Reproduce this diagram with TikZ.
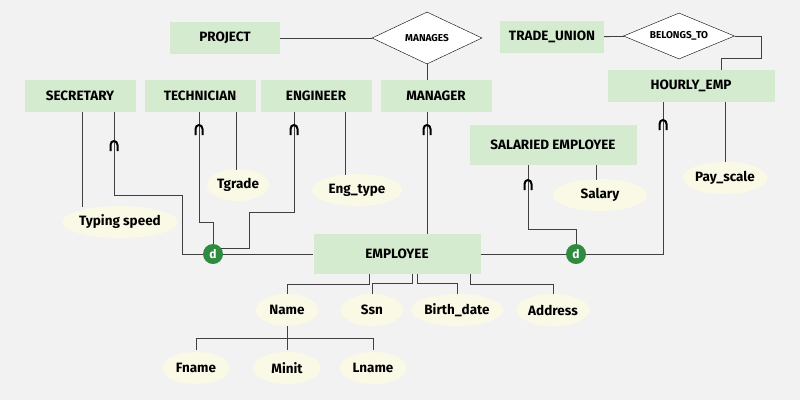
\documentclass[tikz,border=0pt]{standalone}
\usepackage{fontspec}
\setmainfont{Fira Sans}
\usetikzlibrary{shapes.geometric,calc}
\definecolor{bgc}{HTML}{F2F2F2}
\definecolor{entc}{HTML}{D5EBD0}
\definecolor{attc}{HTML}{FAF9E6}
\definecolor{dc}{HTML}{2E8B3F}
\tikzset{
  entity/.style={fill=entc, minimum height=32pt, inner sep=0pt, font=\bfseries\fontsize{13.5}{15}\selectfont},
  rel/.style={diamond, draw, fill=white, aspect=2.1, inner sep=0pt, font=\bfseries\fontsize{10}{12}\selectfont},
  attr/.style={ellipse, fill=attc, minimum height=32pt, inner sep=0pt, font=\bfseries\fontsize{13.5}{15}\selectfont},
  disj/.style={circle, fill=dc, text=white, minimum size=20pt, inner sep=0pt, font=\bfseries\fontsize{12}{14}\selectfont},
  link/.style={draw=black!75, line width=0.9pt}
}
\newcommand{\subsetmark}[1]{\draw[line width=2pt] ($(#1)+(-3.5,6)$) -- ($(#1)+(-3.5,0)$) arc[start angle=180, end angle=0, x radius=3.5, y radius=-4] -- ($(#1)+(3.5,6)$);}
\begin{document}
\begin{tikzpicture}[x=1pt, y=-1pt]
  \fill[bgc] (0,0) rectangle (800,400);
  \useasboundingbox (0,0) rectangle (800,400);
  % entities
  \node[entity, minimum width=110pt] (project) at (225,38) {PROJECT};
  \node[entity, minimum width=104pt] (union) at (552,37) {TRADE\_UNION};
  \node[entity, minimum width=167pt] (hourly) at (691,86) {HOURLY\_EMP};
  \node[entity, minimum width=111pt] (secretary) at (80,96) {SECRETARY};
  \node[entity, minimum width=111pt] (technician) at (200,96) {TECHNICIAN};
  \node[entity, minimum width=111pt] (engineer) at (316,96) {ENGINEER};
  \node[entity, minimum width=111pt] (manager) at (436,96) {MANAGER};
  \node[entity, minimum width=167pt, minimum height=40pt] (salaried) at (553,145) {SALARIED EMPLOYEE};
  \node[entity, minimum width=167pt, minimum height=40pt] (employee) at (397,254) {EMPLOYEE};
  % relationships
  \node[rel, minimum width=110pt, minimum height=52pt] (manages) at (427,38) {MANAGES};
  \node[rel, minimum width=111pt, minimum height=46pt] (belongs) at (679,36) {BELONGS\_TO};
  % attributes
  \node[attr, minimum width=100pt] (typing) at (120,222) {Typing speed};
  \node[attr, minimum width=62pt] (tgrade) at (238,185) {Tgrade};
  \node[attr, minimum width=90pt] (engtype) at (357,190) {Eng\_type};
  \node[attr, minimum width=94pt] (salary) at (600,195) {Salary};
  \node[attr, minimum width=84pt] (payscale) at (725,178) {Pay\_scale};
  \node[attr, minimum width=62pt] (name) at (287,310) {Name};
  \node[attr, minimum width=62pt] (ssn) at (372,310) {Ssn};
  \node[attr, minimum width=87pt] (birth) at (457,310) {Birth\_date};
  \node[attr, minimum width=73pt] (address) at (553,310) {Address};
  \node[attr, minimum width=68pt] (fname) at (196,368) {Fname};
  \node[attr, minimum width=68pt] (minit) at (287,368) {Minit};
  \node[attr, minimum width=67pt] (lname) at (373,368) {Lname};
  % disjointness circles
  \node[disj] (dleft) at (213,254) {d};
  \node[disj] (dright) at (576,254) {d};
  % connectors
  \draw[link] (project) -- (manages);
  \draw[link] (union) -- (belongs);
  \draw[link] (manages.south) -- (manages.south |- manager.north);
  \draw[link] (belongs.east) -- ++(27,0) |- (721,58) -- (721,70);
  \draw[link] (82,112) -- (82,207);
  \draw[link] (236,112) -- (236,170);
  \draw[link] (345,112) -- (345,175);
  \draw[link] (596,165) -- (596,180);
  \draw[link] (725,102) -- (725,162);
  \draw[link] (114,112) |- (182,195) |- (dleft.west);
  \draw[link] (199,112) |- (213,222) -- (dleft.north);
  \draw[link] (294,112) |- (249,212) |- (221,248);
  \draw[link] (427,112) -- (427,234);
  \draw[link] (dleft) -- (employee);
  \draw[link] (employee) -- (dright);
  \draw[link] (dright.east) -| (663,102);
  \draw[link] (dright.north) |- (528,229) -- (528,165);
  % employee attributes
  \draw[link] (369,274) |- (287,284) -- (name.north);
  \draw[link] (412,274) |- (372,283) -- (ssn.north);
  \draw[link] (417,274) |- (457,283) -- (birth.north);
  \draw[link] (470,274) |- (553,284) -- (address.north);
  \draw[link] (name.south) -- (287,350);
  \draw[link] (196,350) |- (373,338) -- (373,350);
  % subset marks
  \subsetmark{114,145}
  \subsetmark{199,129}
  \subsetmark{294,129}
  \subsetmark{427,129}
  \subsetmark{528,184}
  \subsetmark{663,124}
\end{tikzpicture}
\end{document}
